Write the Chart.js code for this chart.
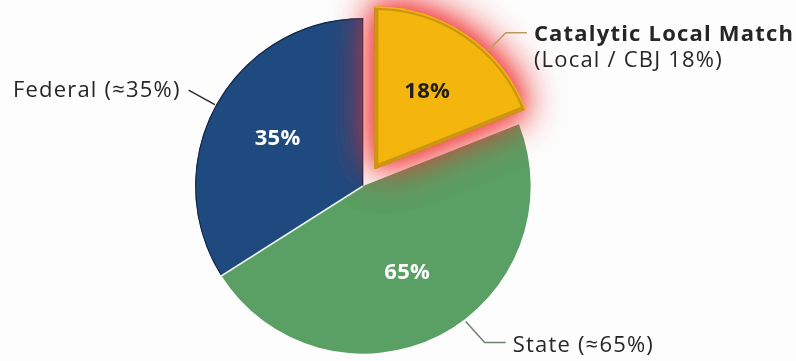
<!DOCTYPE html>
<html>
<head>
<meta charset="utf-8">
<script src="https://cdn.jsdelivr.net/npm/chart.js@4.4.1/dist/chart.umd.min.js"></script>
<style>
  html, body { margin: 0; padding: 0; background: #fdfdfd; }
  #wrap { width: 796px; height: 361px; }
</style>
</head>
<body>
<div id="wrap"><canvas id="pie" width="796" height="361"></canvas></div>
<script>
// slices in drawing order (clockwise, starting at the Federal slice)
const labels = ['Federal', 'Catalytic Local Match', 'State'];
const shares = [34, 19, 47];          // slice sizes
const sliceText = ['35%', '18%', '65%'];
const calloutText = [
  ['Federal (≈35%)'],
  ['Catalytic Local Match', '(Local / CBJ 18%)'],
  ['State (≈65%)']
];

const FONT = '"Open Sans", sans-serif';
const total = shares.reduce((a, b) => a + b, 0);

function arcGeom(arc) {
  const p = arc.getProps(['x', 'y', 'startAngle', 'endAngle', 'outerRadius']);
  const mid = (p.startAngle + p.endAngle) / 2;
  const off = (arc.options.offset || 0) / 4;
  return { cx: p.x + Math.cos(mid) * off, cy: p.y + Math.sin(mid) * off,
           r: p.outerRadius, a0: p.startAngle, a1: p.endAngle };
}
function pt(g, frac, rad) {
  const a = g.a0 + (g.a1 - g.a0) * frac;
  return [g.cx + Math.cos(a) * rad, g.cy + Math.sin(a) * rad];
}
function line(ctx, pts, color, w) {
  ctx.beginPath();
  ctx.moveTo(pts[0][0], pts[0][1]);
  for (let i = 1; i < pts.length; i++) ctx.lineTo(pts[i][0], pts[i][1]);
  ctx.strokeStyle = color;
  ctx.lineWidth = w;
  ctx.stroke();
}

const piePlugin = {
  id: 'pieExtras',
  afterDatasetsUpdate(chart) {
    // the highlighted slice is a bit shorter than the rest
    const arcs = chart.getDatasetMeta(0).data;
    arcs[1].outerRadius = 161;
  },
  afterDatasetsDraw(chart) {
    const ctx = chart.ctx;
    const arcs = chart.getDatasetMeta(0).data;

    // thin light seam between federal and state
    let g = arcGeom(arcs[0]);
    line(ctx, [pt(g, 0, 0), pt(g, 0, g.r)], '#e6f3ea', 1.6);

    // red glow round the local match slice
    ctx.save();
    ctx.shadowColor = 'rgba(240, 50, 50, 0.75)';
    ctx.shadowBlur = 44;
    arcs[1].draw(ctx);
    arcs[1].draw(ctx);
    ctx.shadowBlur = 22;
    arcs[1].draw(ctx);
    ctx.restore();
    arcs[1].draw(ctx);

    // percentages inside the slices
    const colors = ['#ffffff', '#1e1e1e', '#ffffff'];
    ctx.save();
    ctx.font = 'bold 22px ' + FONT;
    ctx.letterSpacing = '0.3px';
    ctx.textAlign = 'center';
    ctx.textBaseline = 'middle';
    arcs.forEach((arc, i) => {
      const g = arcGeom(arc);
      const p = pt(g, 0.5, g.r * 0.58);
      ctx.fillStyle = colors[i];
      ctx.fillText(sliceText[i], p[0], p[1]);
    });
    ctx.restore();

    // callouts
    ctx.save();
    ctx.fillStyle = '#262626';
    ctx.textBaseline = 'alphabetic';
    ctx.letterSpacing = '1.2px';

    g = arcGeom(arcs[0]);
    let a = pt(g, 0.5, g.r + 1), b = pt(g, 0.5, g.r + 31);
    line(ctx, [a, b], '#2b2b2b', 1.5);
    ctx.font = '22px ' + FONT;
    ctx.textAlign = 'right';
    ctx.fillText(calloutText[0][0], b[0] - 8, b[1] + 7);

    g = arcGeom(arcs[1]);
    a = pt(g, 0.64, g.r + 1);
    b = [a[0] + 19, a[1] - 19];
    let c = [b[0] + 21, b[1]];
    line(ctx, [a, b, c], '#b79c5c', 1.5);
    ctx.textAlign = 'left';
    ctx.font = 'bold 22px ' + FONT;
    ctx.fillText(calloutText[1][0], c[0] + 7, c[1] + 8);
    ctx.font = '22px ' + FONT;
    ctx.fillText(calloutText[1][1], c[0] + 7, c[1] + 34);

    g = arcGeom(arcs[2]);
    a = pt(g, 0.44, g.r + 2);
    b = [a[0] + 19, a[1] + 21];
    c = [b[0] + 21, b[1]];
    line(ctx, [a, b, c], '#718271', 1.5);
    ctx.font = '22px ' + FONT;
    ctx.fillText(calloutText[2][0], c[0] + 7, c[1] + 10);
    ctx.restore();
  }
};

new Chart(document.getElementById('pie'), {
  type: 'pie',
  data: {
    labels: labels,
    datasets: [{
      data: shares,
      backgroundColor: ['#1f4a7f', '#f4b60c', '#5a9f63'],
      borderColor: ['#11294b', '#cc9516', '#5a9f63'],
      borderWidth: [1, 3.5, 0],
      borderAlign: 'inner',
      offset: [0, 84, 0]
    }]
  },
  options: {
    responsive: false,
    devicePixelRatio: 1,
    animation: false,
    radius: 168,
    rotation: -360 * shares[0] / total,
    layout: { padding: { left: 0, right: 70, top: 11, bottom: 0 } },
    plugins: { legend: { display: false }, tooltip: { enabled: false } }
  },
  plugins: [piePlugin]
});
</script>
</body>
</html>
